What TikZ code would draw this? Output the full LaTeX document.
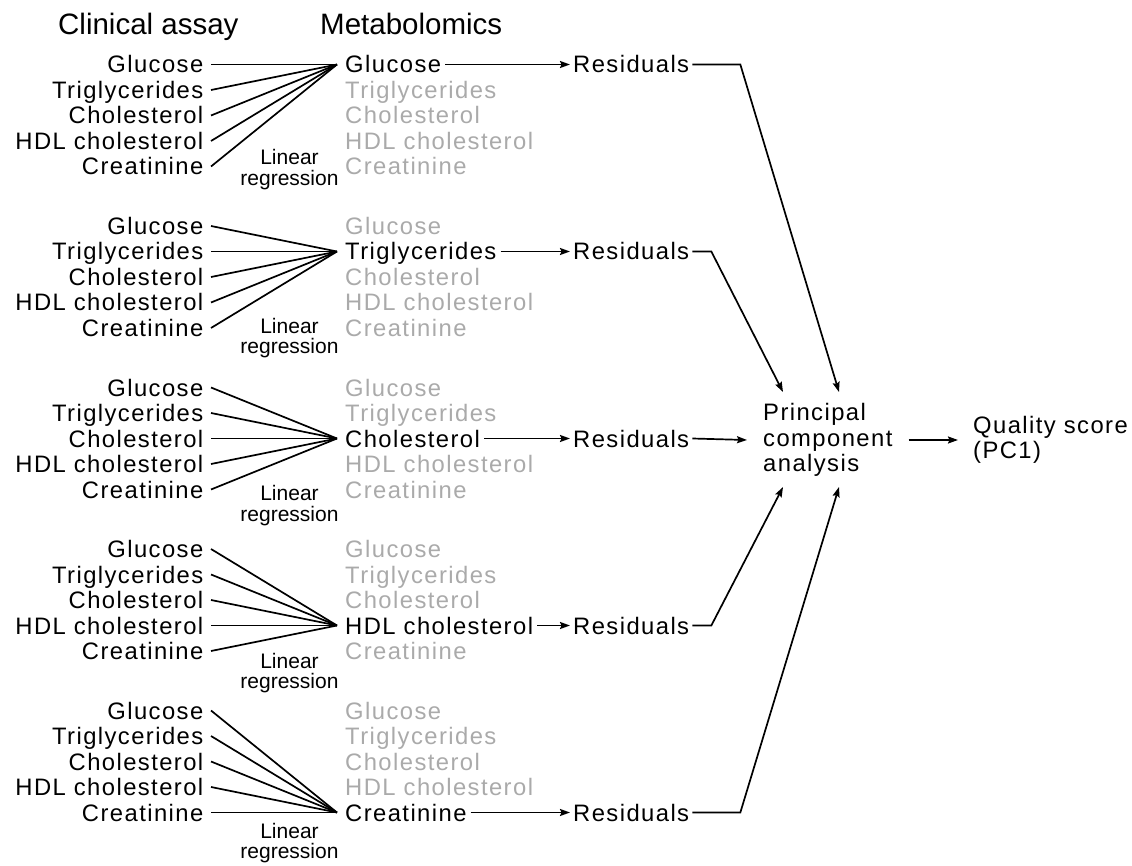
\documentclass[tikz,border=0pt]{standalone}
\usepackage{fontspec}
\setmainfont{Liberation Sans}[LetterSpace=6]
\newfontfamily\plainsans{Liberation Sans}
\usetikzlibrary{arrows.meta}
\definecolor{lightg}{RGB}{170,170,170}
\newcommand\mainsz{\fontsize{23.8}{25.5}\selectfont}
\newcommand\headsz{\plainsans\fontsize{29.5}{32}\selectfont}
\newcommand\regsz{\plainsans\fontsize{21}{20.5}\selectfont}
\tikzset{
  txt/.style={font=\mainsz, inner ysep=0pt, text height=17pt, text depth=0pt},
  lab/.style={txt, anchor=east, inner xsep=7.5pt},
  met/.style={txt, anchor=west, inner xsep=4pt},
  res/.style={txt, anchor=west, inner xsep=3pt},
  head/.style={font=\headsz, anchor=base west, inner sep=0pt},
  regl/.style={font=\regsz, align=center, inner sep=0pt},
  multi/.style={font=\mainsz, align=left, anchor=west, inner ysep=0pt},
  conn/.style={line width=1.7pt},
  arr/.style={line width=1.7pt, -{Stealth[length=10pt,width=7pt,inset=1.5pt]}}
}
\begin{document}
\begin{tikzpicture}[x=1pt,y=-1pt]
\useasboundingbox (0,0) rectangle (1132,866);
\node[head] (H1) at (58,35) {Clinical assay};
\node[head] (H2) at (320,35) {Metabolomics};
\foreach \k in {0,...,4} {
  \foreach \t [count=\i from 0] in {Glucose,Triglycerides,Cholesterol,HDL cholesterol,Creatinine} {
    \pgfmathsetmacro\yy{64.5+161.5*\k+25.5*\i}
    \node[lab] (L\k\i) at (211,\yy) {\t};
    \ifnum\i=\k\relax
      \node[met] (M\k\i) at (341,\yy) {\t};
    \else
      \node[met, text=lightg] (M\k\i) at (341,\yy) {\t};
    \fi
  }
  \coordinate (C\k) at (337,{64.5+187*\k});
  \node[res] (R\k) at (570,{64.5+187*\k}) {Residuals};
  \foreach \i in {0,...,4} \draw[conn] (L\k\i.east) -- (C\k);
  \draw[arr] (M\k\k.east) -- (R\k.west);
}
\foreach \k/\yb in {0/165,1/333.3,2/500.7,3/668.3,4/838.3}
  \node[regl] (G\k) at (289.5,\yb+4.8) {Linear\\regression};

\node[multi, inner xsep=16pt] (P) at (747,440) {Principal\\component\\analysis};
\node[multi, inner xsep=15pt] (Q) at (958,440) {Quality score\\(PC1)};

\coordinate (T1) at (839,392);
\coordinate (T2) at (783,392);
\coordinate (T4) at (783,487);
\coordinate (T5) at (839,487);

\draw[arr] (R0.east) -- ++(48,0) -- (T1);
\draw[arr] (R1.east) -- ++(19,0) -- (T2);
\draw[arr] (R2.east) -- (P.west);
\draw[arr] (R3.east) -- ++(19,0) -- (T4);
\draw[arr] (R4.east) -- ++(48,0) -- (T5);
\draw[arr] (P.east) -- (Q.west);
\end{tikzpicture}
\end{document}
